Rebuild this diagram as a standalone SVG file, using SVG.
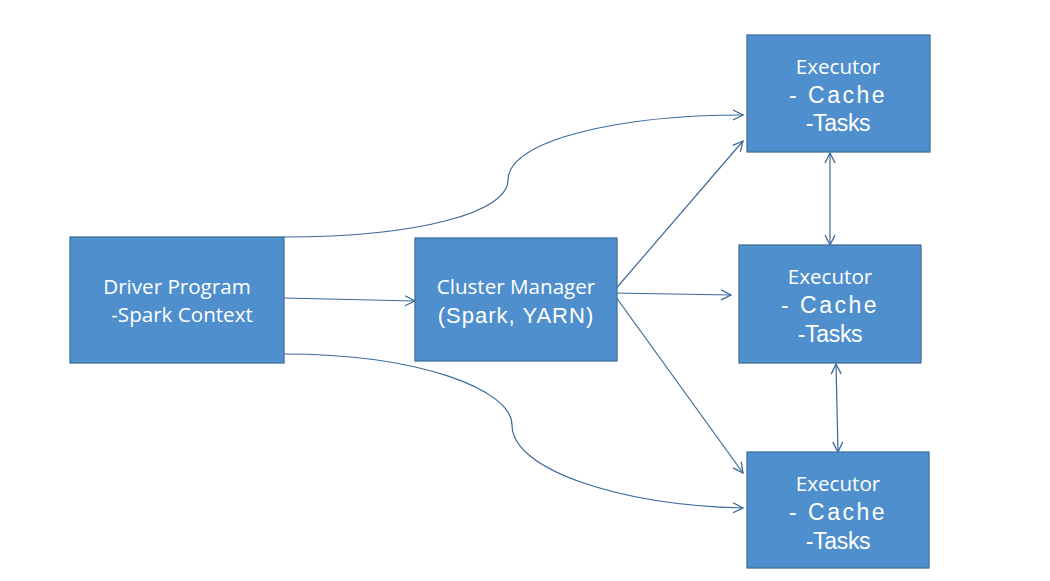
<svg xmlns="http://www.w3.org/2000/svg" width="1050" height="581" viewBox="0 0 1050 581">
<defs>
<style>
.box{fill:#4f8fcd;stroke:#41719c;stroke-width:1.3}
.t{font-family:"Open Sans","Liberation Sans",sans-serif;fill:#fff;text-anchor:middle}
.s{font-size:20.6px}
.b{font-family:"Liberation Sans","Open Sans",sans-serif;font-size:23px}
.ca{letter-spacing:2.5px}
.ta{letter-spacing:-0.3px}
.c{fill:none;stroke:#3a6898;stroke-width:1.2}
</style>
<marker id="ah" viewBox="0 0 12 12" refX="11" refY="6" markerWidth="12" markerHeight="12" markerUnits="userSpaceOnUse" orient="auto-start-reverse">
<path d="M1,1 L11,6 L1,11" fill="none" stroke="#3a6898" stroke-width="1.3"/>
</marker>
</defs>
<rect width="1050" height="581" fill="#fff"/>
<g id="connectors">
<path class="c" d="M284,237 C420,237 508,212 508,180 C508,140 620,115 743,115" marker-end="url(#ah)"/>
<path class="c" d="M284,298 L415,301" marker-end="url(#ah)"/>
<path class="c" d="M284,354 C420,354 512,390 512,425 C512,470 620,505 743,508" marker-end="url(#ah)"/>
<path class="c" d="M613,292 L743,141" marker-end="url(#ah)"/>
<path class="c" d="M613,293 L731,295" marker-end="url(#ah)"/>
<path class="c" d="M613,293 L743,473" marker-end="url(#ah)"/>
<path class="c" d="M830,153 L830,245" marker-start="url(#ah)" marker-end="url(#ah)"/>
<path class="c" d="M836,364 L838,452" marker-start="url(#ah)" marker-end="url(#ah)"/>
</g>
<g id="driver">
<rect class="box" x="70" y="237" width="214" height="126"/>
<text class="t s" x="177" y="294">Driver Program</text>
<text class="t s" x="182" y="322">-Spark Context</text>
</g>
<g id="cluster">
<rect class="box" x="415" y="238" width="202" height="123"/>
<text class="t s" x="516" y="294">Cluster Manager</text>
<text class="t b" x="516" y="323" style="font-size:22px;letter-spacing:1px">(Spark, YARN)</text>
</g>
<g id="exec1">
<rect class="box" x="747" y="35" width="183" height="117"/>
<text class="t s" x="838" y="74">Executor</text>
<text class="t b ca" x="838" y="103">- Cache</text>
<text class="t b ta" x="838" y="131">-Tasks</text>
</g>
<g id="exec2">
<rect class="box" x="739" y="245" width="182" height="118"/>
<text class="t s" x="830" y="284">Executor</text>
<text class="t b ca" x="830" y="313">- Cache</text>
<text class="t b ta" x="830" y="342">-Tasks</text>
</g>
<g id="exec3">
<rect class="box" x="747" y="452" width="182" height="116"/>
<text class="t s" x="838" y="491">Executor</text>
<text class="t b ca" x="838" y="520">- Cache</text>
<text class="t b ta" x="838" y="549">-Tasks</text>
</g>
</svg>
